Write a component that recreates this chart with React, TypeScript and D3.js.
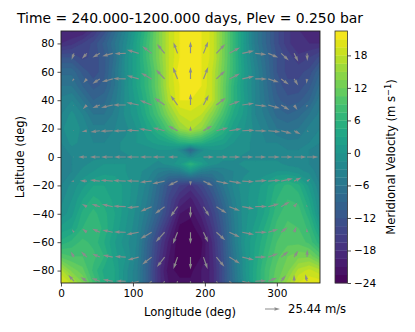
import * as d3 from "d3";
import { useRef, useEffect } from "react";

const lons = d3.range(0, 361, 15);
const lats = [90, 80, 70, 60, 50, 40, 30, 20, 10, 5, 0, -5, -10, -20, -30, -40, -50, -60, -70, -80, -90];

// meridional velocity, one row per lats, one value per lons
const field = [
  [-19, -20, -20, -17, -13, -8, -3, 2, 7, 13, 18, 21, 22, 21, 19, 13, 7, 1, -5, -9, -13, -16, -18, -19, -19],
  [-18, -17, -15, -13, -10, -6, -2, 3, 8, 13, 18, 21, 22, 21, 19, 13, 7, 1, -5, -9, -13, -16, -18, -18, -18],
  [-12, -12, -14, -13, -11, -7, -1, 3, 8, 13, 18, 21, 22, 21, 19, 13, 7, 1, -4, -8, -12, -14, -16, -15, -13],
  [-8, -8, -11, -13, -11, -6, -1, 3, 7, 12, 18, 22, 22, 21, 18, 12.5, 7, 1.5, -3, -7.5, -12, -14, -14, -13, -9],
  [-6, -6, -9, -11, -10, -6, -1, 3, 7, 12, 18, 21, 22, 21, 18, 12, 6, 1, -3, -7, -11, -13, -13, -11, -7],
  [-4, -3, -6, -9, -8, -5, -1, 2, 6, 11, 17, 21, 21, 20, 18, 12, 6, 1.5, -3, -6.5, -10, -11.5, -11, -9, -5],
  [-3, -1, -3, -6, -6, -4, -1, 1, 5, 9, 14, 18, 19, 18, 14, 9, 4, 1, -3, -5, -8, -9, -8, -6, -4],
  [-2, 0, -2, -4, -4, -3, -2, 0, 3, 6, 10, 15, 17, 15, 10, 6, 2, 0, -2, -4, -6, -6.5, -6, -4, -3],
  [-3, -1, -2, -3, -3, -2, -1, 0, 1, 2, 3, 5, 6, 5, 3, 2, 0, -1, -2, -3, -3, -4, -4, -3, -3],
  [-4, -2, -2, -2, -2, -2, -1, -1, -1, 0, 0, -2, -9, -2, 0, 0, -1, -1, -2, -2, -2, -3, -3, -3, -4],
  [-4, -3, -2, -2, -2, -2, -2, -1, -1, -1, -1, 0, -2, 0, -1, -1, -1, -2, -2, -2, -2, -2, -3, -3, -4],
  [-4, -3, -2, -1, 0, 0, 0, -1, -1, -2, -1, 1, 6, 2, -1, -2, -2, -1, -1, -1, -1, -2, -2, -3, -4],
  [-4, -3, -1, 0, 1, 1, 0, -1, -2, -4, -5, -4, 0, -4, -5, -4, -3, -2, -1, -1, 0, 0, -1, -2, -4],
  [-3, -1, 1, 3, 3, 2.5, 1, -1, -3.5, -8, -12.5, -15, -17, -14, -10.5, -6, -2.5, -0.5, 0.5, 2.5, 5, 6.5, 5, 1, -3],
  [-2, 0, 3, 5, 4, 2.5, 1, -1.5, -4.5, -9, -14, -18, -20, -17, -13, -8, -3.5, -0.5, 1, 3, 6, 7.5, 7, 3, -2],
  [-1, 1, 5, 6.5, 5, 3, 0.5, -2, -5.5, -10, -15, -21, -22, -19, -15, -10, -4.5, -0.5, 1, 3.5, 7, 8.5, 8.5, 5, -1],
  [2, 3, 6, 7.5, 5.5, 2.5, 0, -2.5, -7, -12.5, -18, -23, -23.5, -21, -16.5, -11, -5, -0.5, 2, 5, 8, 9.5, 9, 7, 2],
  [5, 6.5, 8, 7, 4.5, 1.5, -1, -3, -9, -15, -20, -24, -24, -23, -18, -12, -5, 0, 3, 6, 9, 10, 10, 8.5, 5],
  [10, 9, 9, 8, 6, 2, 0, -3.5, -9.5, -16, -21, -24, -24, -22.5, -18.5, -12.5, -6, -0.5, 3.5, 7, 10, 12, 13, 13, 10],
  [17, 13, 11, 7, 4, 3, -1, -4, -10, -17, -22, -23, -23, -21, -19, -13, -6.5, -0.5, 4, 8, 11, 13, 17, 18.5, 17],
  [21, 18, 14, 9, 5, 3, -1, -4, -10, -17, -21, -22, -22, -21, -19, -13, -7, -1, 4, 8, 12, 16, 20, 21, 21],
];

// quiver columns and rows
const arrowLons = d3.range(18, 343, 18);
const arrowLats = [73, 55, 36.6, 18.5, 0, -17, -35, -53, -70.5, -87.5];

const uRows = [
  [-4, -8.5, -12.5, -18, -19, -20, -16, -13, -7, 0, 8, 15, 18, 20, 19, 17, 13, 7, 0.5],
  [-3.4, -6, -12.5, -18.6, -21.5, -20, -18, -15, -8, 0, 8, 15, 18, 20, 20, 18, 13, 7, -1],
  [-1, -7, -12.5, -20, -21.5, -21, -20, -17.5, -12, 0, 9, 16, 18, 20, 20, 20, 14, 5.6, -0.5],
  [-2, -9, -16, -21.5, -21.5, -21, -21.5, -20, -16, 0, 15, 20, 21, 21, 20, 21, 18, 11, 3],
  [-2, -14.7, -17, -20, -20, -21, -20, -21, -16.4, 0, 18, 20, 19, 19, 19, 20, 20, 21, 19],
  [-5, -12, -17, -21, -21.5, -21, -20, -21, -16, 0, 16, 21, 21, 20, 20, 21, 20, 12.5, 5.6],
  [-1, -8.5, -14, -18.6, -21.5, -20, -19, -16.4, -12, 0, 10, 17.5, 18, 20, 20, 18.6, 14.7, 5.6, -1],
  [-3.4, -8, -13, -18, -20, -21, -19, -15, -8, 0, 8, 15, 18, 20, 20, 17, 10.7, 4, -0.5],
  [-5.6, -10, -13, -17, -18.6, -19, -16, -13, -7, 0, 7, 13.6, 18, 20, 19, 17, 12.4, 7, 0.5],
  [-9.6, -10.7, -14, -17, -17, -18, -14, -10, -5, 0, 5, 10, 14, 18, 19, 15, 8, 0, -3],
];

const vRows = [
  [-11, -9, -7, -5, -0.5, 6, 12, 16, 19, 20, 20, 16, 10, 4.5, -2, -7, -12, -14, -13],
  [-4.5, -7, -8, -5, 0.5, 5.6, 10, 16, 20, 20, 20, 14, 9, 4.5, 0, -5.6, -9.6, -11, -8],
  [-1, -7, -5, -4.5, 0, 4.5, 8, 12.5, 16.5, 19, 17, 12.5, 7, 3, -2, -5.6, -8.5, -8.5, -4],
  [1, -1.7, -2, -1, -0.5, 1, 3.4, 5, 8.5, 8, 8.5, 5, 3.4, 1, -0.5, -2, -4.5, -6, -2],
  [0, 0, 0, 0, 0, 0, 0, 0, 0, 0, 0, 0, 0, 0, 0, 0, 0, 0, 0],
  [0, 0.5, 2, 1.7, 1, 0.5, -2, -4.5, -8, -8, -8, -4.5, -3.4, -1, 1, 1.7, 4.5, 6, 4],
  [0, 4.5, 4.5, 4, 1, -2, -8, -12, -17, -19, -16.4, -11, -7, -3.4, 0.5, 5, 8.5, 7.3, 3.4],
  [5, 6, 6, 4, 0.5, -4, -11, -16.4, -20, -20, -17, -13.6, -8.5, -4, 0, 5, 8.5, 9.6, 6.8],
  [9.6, 9.6, 5.6, 3.4, 1, -5, -12.4, -17, -20, -21, -20, -16.4, -11, -5, 0, 6, 10, 11, 13],
  [11, 7, 5, 3, 0.5, -5, -12, -17, -19, -20, -19, -17, -12, -5, 1, 6, 10, 11, 12],
];

const levels = d3.range(-24, 22.6, 1.5);
const lonTicks = [0, 100, 200, 300];
const latTicks = [-80, -60, -40, -20, 0, 20, 40, 60, 80];
const cbarTicks = [-24, -18, -12, -6, 0, 6, 12, 18];
const keySpeed = 25.44;

const W = 415;
const H = 332;
const font = "'DejaVu Sans', sans-serif";

// same shape as a matplotlib quiver arrow
function arrowPath(x: number, y: number, dx: number, dy: number) {
  const w = 1.15;
  const len = Math.hypot(dx, dy);
  if (len < 0.01) return "";
  const k = Math.min(1, len / (5 * w));
  const hw = 1.5 * w * k;
  const sw = 0.5 * w * k;
  const neck = len - 4.5 * w * k;
  const back = len - 5 * w * k;
  const pts = [[0, sw], [neck, sw], [back, hw], [len, 0], [back, -hw], [neck, -sw], [0, -sw]];
  const a = Math.atan2(dy, dx);
  return "M" + pts.map(([px, py]) => [
    x + px * Math.cos(a) - py * Math.sin(a),
    y + px * Math.sin(a) + py * Math.cos(a),
  ].join(",")).join("L") + "Z";
}

export default function App() {
  const svgRef = useRef<SVGSVGElement>(null);

  useEffect(() => {
    const svg = d3.select(svgRef.current);
    svg.selectAll("*").remove();

    const x = d3.scaleLinear().domain([0, 360]).range([61, 320]);
    const y = d3.scaleLinear().domain([88.75, -88.75]).range([31, 283]);
    const color = d3.scaleSequential(d3.interpolateViridis).domain([-24, 22.5]);

    svg.append("defs").append("clipPath").attr("id", "plot")
      .append("rect").attr("x", 61).attr("y", 31).attr("width", 259).attr("height", 252);

    // filled contours, the latitude rows are not evenly spaced so map index -> lat
    const values = field.flat();
    const contours = d3.contours().size([lons.length, lats.length]).thresholds(levels)(values);
    const gridX = d3.scaleLinear().domain(lons.map((_, i) => i + 0.5)).range(lons.map((d) => x(d)));
    const gridY = d3.scaleLinear().domain(lats.map((_, i) => i + 0.5)).range(lats.map((d) => y(d)));
    const path = d3.geoPath(d3.geoTransform({
      point(px, py) {
        this.stream.point(gridX(px), gridY(py));
      },
    }));
    const plot = svg.append("g").attr("clip-path", "url(#plot)");
    plot.selectAll("path.band").data(contours).enter().append("path")
      .attr("class", "band")
      .attr("d", (c) => path(c))
      .attr("fill", (c) => color(c.value + 0.75))
      .attr("stroke", (c) => color(c.value + 0.75))
      .attr("stroke-width", 0.3);

    // arrows
    const speed = 15 / keySpeed;
    arrowLats.forEach((lat, r) => {
      arrowLons.forEach((lon, c) => {
        plot.append("path")
          .attr("d", arrowPath(x(lon), y(lat), uRows[r][c] * speed, -vRows[r][c] * speed))
          .attr("fill", "#8c8c8c");
      });
    });

    // frame and axes
    svg.append("rect").attr("x", 61).attr("y", 31).attr("width", 259).attr("height", 252)
      .attr("fill", "none").attr("stroke", "#222").attr("stroke-width", 0.9);

    const styleAxis = (g: any, size: number) => {
      g.select(".domain").remove();
      g.selectAll("line").attr("stroke", "#222").attr("stroke-width", 0.8);
      g.selectAll("text").attr("font-family", font).attr("font-size", size).attr("fill", "#000");
    };
    const minus = (d: any) => d3.format("d")(d).replace("-", "\u2212");

    svg.append("g").attr("transform", "translate(0,283)")
      .call(d3.axisBottom(x).tickValues(lonTicks).tickSize(3.5).tickPadding(3).tickFormat(minus))
      .call(styleAxis, 10.5);
    svg.append("g").attr("transform", "translate(61,0)")
      .call(d3.axisLeft(y).tickValues(latTicks).tickSize(3.5).tickPadding(3).tickFormat(minus))
      .call(styleAxis, 10.5);

    // colour bar
    const cy = d3.scaleLinear().domain([-24, 22.5]).range([283, 31]);
    svg.append("g").selectAll("rect").data(levels.slice(0, -1)).enter().append("rect")
      .attr("x", 335).attr("width", 12.5)
      .attr("y", (d) => cy(d + 1.5))
      .attr("height", (d) => cy(d) - cy(d + 1.5) + 0.3)
      .attr("fill", (d) => color(d + 0.75));
    svg.append("rect").attr("x", 335).attr("y", 31).attr("width", 12.5).attr("height", 252)
      .attr("fill", "none").attr("stroke", "#333").attr("stroke-width", 0.8);
    svg.append("g").attr("transform", "translate(347.5,0)")
      .call(d3.axisRight(cy).tickValues(cbarTicks).tickSize(3.5).tickPadding(3).tickFormat(minus))
      .call(styleAxis, 10.5);

    const text = (tx: number, ty: number, s: string, size: number, anchor = "middle") =>
      svg.append("text").attr("x", tx).attr("y", ty).attr("font-family", font)
        .attr("font-size", size).attr("text-anchor", anchor).attr("fill", "#000").text(s);

    text(190, 23, "Time = 240.000-1200.000 days, Plev = 0.250 bar", 13.9);
    text(190, 316, "Longitude (deg)", 11.6);
    text(0, 0, "Latitude (deg)", 11.6).attr("transform", "translate(24,157) rotate(-90)");

    const cbarLabel = text(0, 0, "Meridional Velocity (m s", 11.6)
      .attr("transform", "translate(395,157) rotate(-90)");
    cbarLabel.append("tspan").attr("dy", -4).attr("font-size", 8.2).text("\u22121");
    cbarLabel.append("tspan").attr("dy", 4).text(")");

    // quiver key
    svg.append("path").attr("d", arrowPath(265, 309, 15, 0)).attr("fill", "#8c8c8c");
    text(288, 313, "25.44 m/s", 11.6, "start");
  }, []);

  return <svg ref={svgRef} width={W} height={H} style={{ position: "absolute", left: 0, top: 0, background: "#fff" }} />;
}
